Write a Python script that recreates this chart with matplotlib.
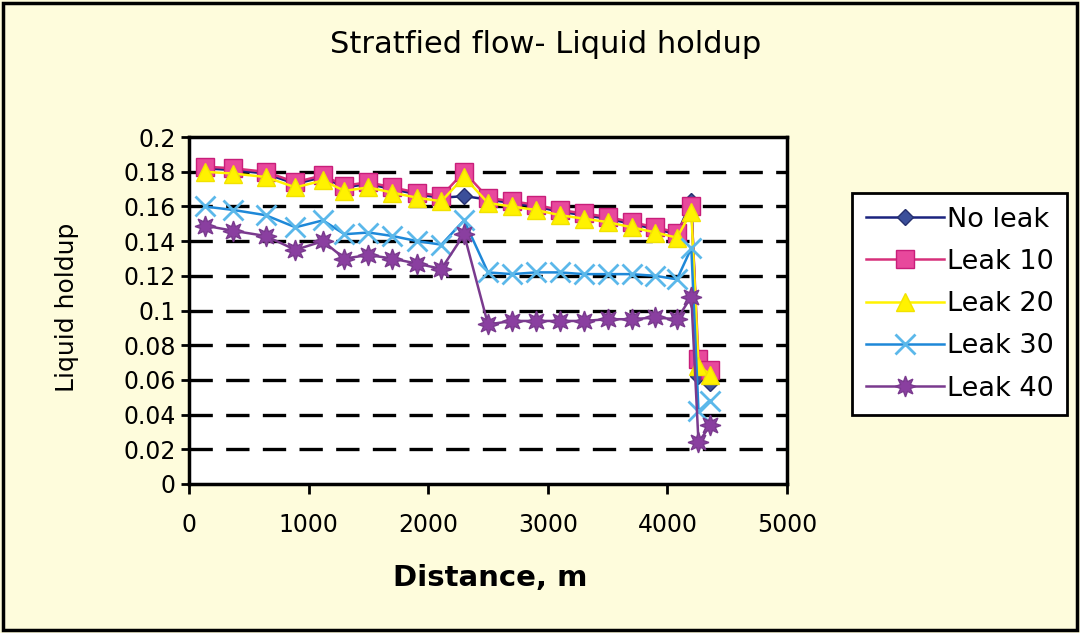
"""
Stratified flow - liquid holdup along the pipeline for several leak cases.
"""
import numpy as np
import matplotlib
matplotlib.use('Agg')
import matplotlib.pyplot as plt
from matplotlib.patches import Rectangle

# Distance along pipe (m)
distance = [130, 370, 640, 890, 1120, 1300, 1500, 1700, 1910, 2110, 2300,
            2500, 2700, 2900, 3100, 3300, 3500, 3700, 3900, 4080, 4200,
            4260, 4360]

# Liquid holdup per case
no_leak = [0.182, 0.181, 0.179, 0.173, 0.177, 0.171, 0.173, 0.170, 0.167,
           0.165, 0.166, 0.164, 0.162, 0.160, 0.157, 0.155, 0.153, 0.150,
           0.147, 0.144, 0.163, 0.062, 0.058]
leak_10 = [0.183, 0.182, 0.180, 0.174, 0.178, 0.172, 0.174, 0.171, 0.168,
           0.166, 0.180, 0.165, 0.163, 0.161, 0.158, 0.156, 0.154, 0.151,
           0.148, 0.145, 0.160, 0.072, 0.066]
leak_20 = [0.180, 0.179, 0.177, 0.171, 0.175, 0.169, 0.171, 0.168, 0.165,
           0.163, 0.177, 0.162, 0.160, 0.158, 0.155, 0.153, 0.151, 0.148,
           0.145, 0.142, 0.157, 0.068, 0.063]
leak_30 = [0.160, 0.158, 0.155, 0.148, 0.152, 0.144, 0.145, 0.143, 0.140,
           0.138, 0.152, 0.122, 0.121, 0.122, 0.122, 0.121, 0.121, 0.121,
           0.120, 0.118, 0.136, 0.042, 0.048]
leak_40 = [0.149, 0.146, 0.143, 0.135, 0.140, 0.130, 0.132, 0.130, 0.127,
           0.124, 0.144, 0.092, 0.094, 0.094, 0.094, 0.094, 0.095, 0.095,
           0.096, 0.095, 0.108, 0.024, 0.034]

labels = ['No leak', 'Leak 10', 'Leak 20', 'Leak 30', 'Leak 40']
y_ticks = np.arange(0, 0.2001, 0.02)
y_tick_labels = ['0', '0.02', '0.04', '0.06', '0.08', '0.1', '0.12',
                 '0.14', '0.16', '0.18', '0.2']
x_ticks = [0, 1000, 2000, 3000, 4000, 5000]

plt.rcParams['font.family'] = ['DejaVu Sans']

BG = '#FEFCDC'
fig = plt.figure(figsize=(10.8, 6.33), dpi=100, facecolor=BG)

# Outer frame of the chart area
fig.patches.append(Rectangle((0.003, 0.004), 0.994, 0.992, transform=fig.transFigure,
                             fill=False, edgecolor='black', linewidth=2.5))

ax = fig.add_axes([0.175, 0.2354, 0.5537, 0.548])
ax.set_facecolor('white')

# Series styles (line colour, marker, face, edge, size)
styles = [
    ('#1A237E', 'D', '#3B4F9A', '#26306E', 8),
    ('#D6307A', 's', '#E8489C', '#C81E7A', 13),
    ('#FFF200', '^', '#FFF200', '#F2E200', 13),
    ('#1E88D8', 'x', '#5BB8EA', '#5BB8EA', 14),
    ('#7A3A8E', (8, 1, 0), '#8A3FA0', '#7A3A8E', 15),
]
series = [no_leak, leak_10, leak_20, leak_30, leak_40]

# Dashed horizontal gridlines
for yv in y_ticks[1:-1]:
    ax.axhline(yv, color='black', linewidth=2.4, dashes=(7, 4), zorder=1)

for vals, lab, (lc, mk, mf, me, ms) in zip(series, labels, styles):
    mew = 2.0 if mk == 'x' else 1.0
    ax.plot(distance, vals, color=lc, linewidth=1.8, marker=mk, markersize=ms,
            markerfacecolor=mf, markeredgecolor=me, markeredgewidth=mew,
            label=lab, zorder=3)

ax.set_xlim(0, 5000)
ax.set_ylim(0, 0.2)
ax.set_xticks(x_ticks)
ax.set_yticks(y_ticks)
ax.set_yticklabels(y_tick_labels)
ax.tick_params(axis='y', direction='inout', length=11, width=2, labelsize=17, pad=4)
ax.tick_params(axis='x', direction='out', length=7, width=2, labelsize=17, pad=14)
for sp in ax.spines.values():
    sp.set_linewidth(2.5)

fig.text(0.505, 0.929, 'Stratfied flow- Liquid holdup', ha='center', va='center',
         fontsize=22)
fig.text(0.454, 0.087, 'Distance, m', ha='center', va='center', fontsize=21,
         fontweight='bold')
fig.text(0.062, 0.515, 'Liquid holdup', ha='center', va='center', fontsize=18,
         rotation=90)

leg = fig.legend(loc='upper left', bbox_to_anchor=(0.789, 0.695), fontsize=19.5,
                 frameon=True, fancybox=False, edgecolor='black', framealpha=1,
                 handlelength=2.9, handletextpad=0.1, labelspacing=0.6,
                 borderpad=0.5, borderaxespad=0)
leg.get_frame().set_linewidth(2)

plt.savefig('out.png', dpi=100, facecolor=BG)
plt.close()
